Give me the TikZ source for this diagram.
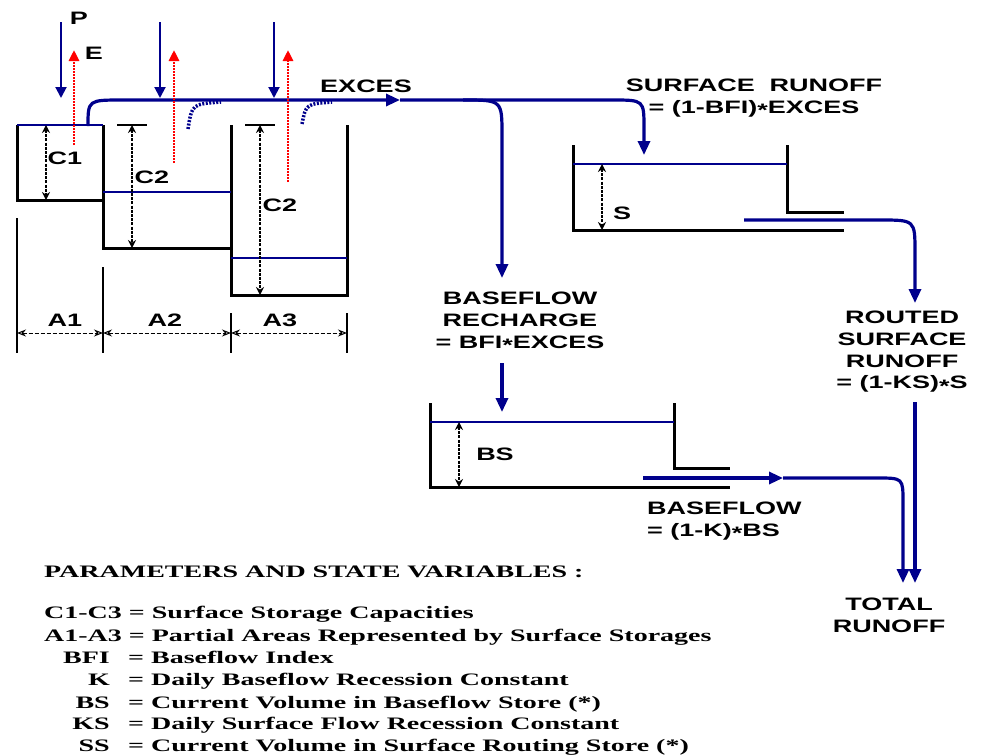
\documentclass[tikz,border=0pt]{standalone}
\usepackage{fontspec}
\usepackage{tikz}
\usetikzlibrary{arrows.meta}

\newfontfamily\lblfont[FakeStretch=1.5]{Liberation Sans}
\newfontfamily\lgdfont[FakeStretch=1.6]{Liberation Serif}
\newcommand{\mult}{\raisebox{-0.35ex}{*}}

\definecolor{flowblue}{RGB}{0,0,140}

\tikzset{
  wall/.style={line width=3pt, black},
  water/.style={line width=2.2pt, flowblue},
  guide/.style={line width=1.4pt, black},
  flowline/.style={line width=3.2pt, flowblue},
  flow/.style={flowline, -{Triangle[length=14pt,width=12pt]}},
  rain/.style={line width=2pt, flowblue, -{Triangle[length=11pt,width=11pt]}},
  evap/.style={line width=2.8pt, red, dash pattern=on 2pt off 1pt, -{Triangle[length=11pt,width=10pt]}},
  spill/.style={line width=3.5pt, flowblue, dash pattern=on 2pt off 1.5pt},
  capdim/.style={line width=1.4pt, black, dash pattern=on 3pt off 1.2pt, {Stealth[length=8pt,width=8pt]}-{Stealth[length=8pt,width=8pt]}},
  areadim/.style={line width=1pt, black, dash pattern=on 4pt off 2pt, {Stealth[open,length=9pt,width=7pt]}-{Stealth[open,length=9pt,width=7pt]}},
  lbl/.style={font=\lblfont\bfseries\fontsize{18}{21.7}\selectfont, inner sep=0pt, align=center},
  lgd/.style={font=\lgdfont\bfseries\fontsize{17.5}{22}\selectfont, inner sep=0pt},
}

\begin{document}
\begin{tikzpicture}[x=1pt,y=-1pt]
  \useasboundingbox (0,0) rectangle (983,755);

  % surface stores
  \draw[wall] (17,125) -- (17,200) -- (103,200);
  \draw[wall] (103,125) -- (103,248) -- (231,248);
  \draw[wall] (231,125) -- (231,295) -- (347,295) -- (347,125);
  \draw[water] (17,125) -- (103,125);
  \draw[water] (103,192) -- (231,192);
  \draw[water] (231,258) -- (347,258);

  % capacities
  \draw[guide] (117,125) -- (147,125);
  \draw[guide] (245,125) -- (275,125);
  \draw[capdim, line width=2pt] (46,125) -- (46,200);
  \draw[capdim] (132,125) -- (132,248);
  \draw[capdim] (260,125) -- (260,295);
  \node[lbl] (c1) at (65,158) {C1};
  \node[lbl] (c2a) at (152,177) {C2};
  \node[lbl] (c2b) at (280,205) {C2};

  % partial areas
  \draw[guide] (17,218) -- (17,353);
  \draw[guide] (103,267) -- (103,353);
  \draw[guide] (231,313) -- (231,353);
  \draw[guide] (347,313) -- (347,353);
  \draw[areadim] (17,333) -- (103,333);
  \draw[areadim] (103,333) -- (231,333);
  \draw[areadim] (231,333) -- (347,333);
  \node[lbl] (a1) at (65,320) {A1};
  \node[lbl] (a2) at (165,320) {A2};
  \node[lbl] (a3) at (280,320) {A3};

  % excess flow
  \coordinate (exstart) at (88,126);
  \coordinate (exhead) at (400,100);
  \draw[flow] (exstart) .. controls (88,100) .. (123,100) -- (exhead);
  \draw[flow] (exhead) -- (612,100) .. controls (644,100) .. (644,128) -- (644,155);
  \draw[flow] (463,100) .. controls (502,100) .. (502,135) -- (502,278);
  \draw[spill] (188,129) .. controls (192,104) .. (221,102);
  \draw[spill] (302,124) .. controls (306,104) .. (332,102);
  \node[lbl] (exces) at (366,86) {EXCES};

  % rain and evaporation
  \foreach \x in {61,160,274}
    \draw[rain] (\x,22) -- (\x,98);
  \draw[evap] (74,145) -- (74,50);
  \draw[evap] (174,163) -- (174,50);
  \draw[evap] (288,182) -- (288,50);
  \node[lbl] (p) at (79,18) {P};
  \node[lbl] (e) at (94,53) {E};

  % surface routing store
  \draw[wall] (573,145) -- (573,230) -- (844,230);
  \draw[wall] (787,145) -- (787,212) -- (844,212);
  \draw[water] (573,164) -- (787,164);
  \draw[capdim, line width=1.2pt] (602,164) -- (602,230);
  \node[lbl] (s) at (622,213) {S};
  \node[lbl] (srunoff) at (754,98) {SURFACE\ \ RUNOFF\\= (1-BFI)\mult EXCES};
  \draw[flow] (744,220) -- (880,220) .. controls (915,220) .. (915,252) -- (915,303);
  \node[lbl] (routed) at (902,352) {ROUTED\\SURFACE\\RUNOFF\\= (1-KS)\mult S};

  % baseflow store
  \node[lbl] (recharge) at (520,322) {BASEFLOW\\RECHARGE\\= BFI\mult EXCES};
  \draw[flow] (502,363) -- (502,412);
  \draw[wall] (430,403) -- (430,487) -- (730,487);
  \draw[wall] (674,403) -- (674,468) -- (730,468);
  \draw[water] (430,422) -- (674,422);
  \draw[capdim, line width=1.2pt] (459,422) -- (459,487);
  \node[lbl] (bs) at (495,454) {BS};
  \coordinate (bfhead) at (783,478);
  \draw[flow] (643,478) -- (bfhead);
  \draw[flow] (bfhead) -- (877,478) .. controls (903,478) .. (903,502) -- (903,583);
  \node[lbl, align=left, anchor=west] (baseflow) at (647,521) {BASEFLOW\\= (1-K)\mult BS};

  % total runoff
  \draw[flow] (915,402) -- (915,583);
  \node[lbl] (total) at (889,615) {TOTAL\\RUNOFF};

  % legend
  \node[lgd, anchor=base west] (lgdhead) at (44,577) {PARAMETERS AND STATE VARIABLES :};
  \node[lgd, anchor=base west] (lgdc) at (44,618) {C1-C3 = Surface Storage Capacities};
  \node[lgd, anchor=base west] (lgda) at (44,641) {A1-A3 = Partial Areas Represented by Surface Storages};
  \foreach \sym/\txt/\yy [count=\i] in {BFI/Baseflow Index/663,
      K/Daily Baseflow Recession Constant/685,
      BS/Current Volume in Baseflow Store (*)/708,
      KS/Daily Surface Flow Recession Constant/729,
      SS/Current Volume in Surface Routing Store (*)/751} {
    \node[lgd, anchor=base east] (sym\i) at (110,\yy) {\sym};
    \node[lgd, anchor=base west] (def\i) at (128,\yy) {= \txt};
  }
\end{tikzpicture}
\end{document}
